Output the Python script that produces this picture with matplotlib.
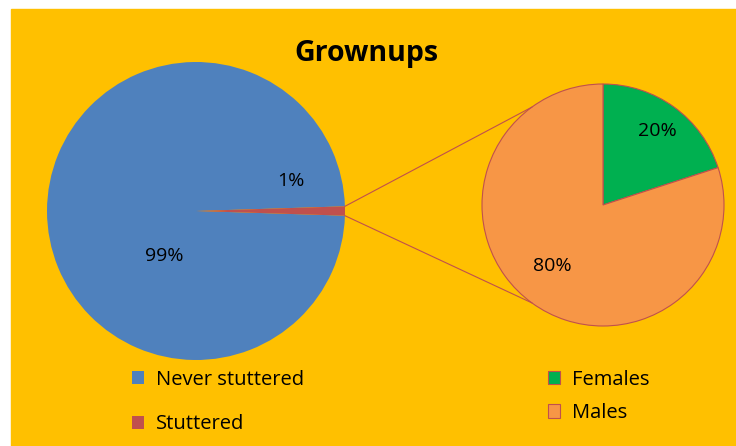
import numpy as np
import matplotlib.pyplot as plt
from matplotlib.patches import Rectangle

# data
main_labels = ['Never stuttered', 'Stuttered']
main_values = [99, 1]
sub_labels = ['Females', 'Males']
sub_values = [20, 80]

main_colors = ['#4F81BD', '#C0504D']
sub_colors = ['#00B050', '#F79646']
bg = '#FFC000'

plt.rcParams['font.family'] = ['Open Sans', 'DejaVu Sans']

W, H = 736, 446
fig = plt.figure(figsize=(W / 100, H / 100), dpi=100, facecolor='white')
ax = fig.add_axes([0, 0, 1, 1])
ax.set_facecolor('none')
ax.add_patch(Rectangle((11, 0), W - 11, H - 9, color=bg, zorder=-5))

c1, r1 = (196, 235), 149
c2, r2 = (603, 241), 121

start = main_values[1] / sum(main_values) * 360 / 2
w1, _ = ax.pie(main_values, colors=main_colors, startangle=start,
               center=c1, radius=r1,
               wedgeprops=dict(linewidth=0))
w2, _ = ax.pie(sub_values, colors=sub_colors, startangle=90, counterclock=False,
               center=c2, radius=r2,
               wedgeprops=dict(edgecolor='#C0504D', linewidth=0.8))

# connector lines
for a1, a2 in [(start, 126), (-start, 234)]:
    p = (c1[0] + r1 * np.cos(np.radians(a1)), c1[1] + r1 * np.sin(np.radians(a1)))
    q = (c2[0] + r2 * np.cos(np.radians(a2)), c2[1] + r2 * np.sin(np.radians(a2)))
    ax.plot([p[0], q[0]], [p[1], q[1]], color='#C0504D', lw=0.8, zorder=1)

# data labels
ax.text(164, 190, f'{main_values[0]}%', ha='center', va='center', fontsize=14)
ax.text(291, 265, f'{main_values[1]}%', ha='center', va='center', fontsize=14)
ax.text(657, 315, f'{sub_values[0]}%', ha='center', va='center', fontsize=14)
ax.text(552, 180, f'{sub_values[1]}%', ha='center', va='center', fontsize=14)

ax.text(366, 392, 'Grownups', ha='center', va='center', fontsize=20.5, fontweight='bold')

leg1 = ax.legend(w1, main_labels, loc='upper left', bbox_to_anchor=(132, 446 - 370),
                 bbox_transform=ax.transData, frameon=False, fontsize=14.5,
                 handlelength=0.62, handleheight=0.62, handletextpad=0.55,
                 labelspacing=1.2, borderpad=0, borderaxespad=0)
ax.add_artist(leg1)
ax.legend(w2, sub_labels, loc='upper left', bbox_to_anchor=(548, 446 - 370),
          bbox_transform=ax.transData, frameon=False, fontsize=14.5,
          handlelength=0.62, handleheight=0.62, handletextpad=0.55,
          labelspacing=0.65, borderpad=0, borderaxespad=0)

ax.set_xlim(0, W)
ax.set_ylim(0, H)
ax.set_aspect('equal')
ax.axis('off')

fig.savefig('out.png', dpi=100, facecolor='white')
